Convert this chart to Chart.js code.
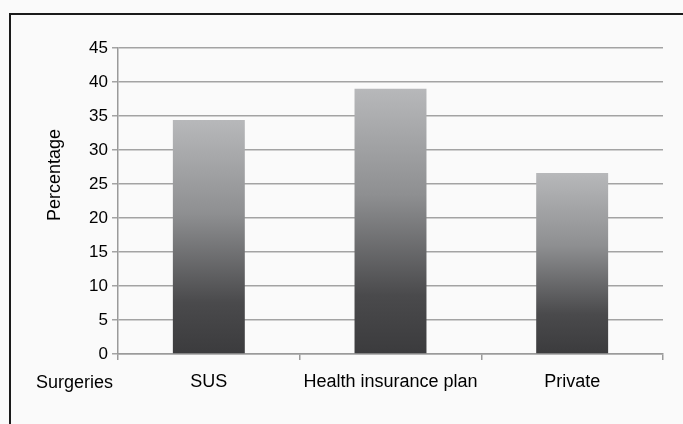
<!DOCTYPE html>
<html lang="en">
<head>
  <meta charset="UTF-8">
  <title>Surgeries by payer</title>
  <script src="https://cdn.jsdelivr.net/npm/chart.js"></script>
  <style>
    html, body {
      margin: 0;
      padding: 0;
      background: #fafafa;
      overflow: hidden;
    }
    .frame {
      position: absolute;
      left: 9px;
      top: 13px;
      width: 700px;
      height: 450px;
      border: 2px solid #1a1a1a;
    }
    .wrap {
      position: absolute;
      left: 0;
      top: 0;
      width: 683px;
      height: 424px;
    }
  </style>
</head>
<body>
  <div class="frame"></div>
  <div class="wrap"><canvas id="chart" width="683" height="424"></canvas></div>

  <script>
    const categories = ['SUS', 'Health insurance plan', 'Private'];
    const percentages = [34.4, 39.0, 26.6];
    const yTicks = [0, 5, 10, 15, 20, 25, 30, 35, 40, 45];
    const yTitle = 'Percentage';
    const xTitle = 'Surgeries';

    const FONT = "'Liberation Sans', Arial, sans-serif";

    // light top, dark bottom, per bar
    function barGradient(context) {
      const chart = context.chart;
      if (!chart.chartArea || context.raw == null) return '#8a8a8c';
      const y = chart.scales.y;
      const top = y.getPixelForValue(context.raw);
      const bottom = y.getPixelForValue(0);
      const g = chart.ctx.createLinearGradient(0, top, 0, bottom);
      g.addColorStop(0, '#b7b8ba');
      g.addColorStop(0.4, '#8e8f91');
      g.addColorStop(0.78, '#4a4a4c');
      g.addColorStop(1, '#3b3b3d');
      return g;
    }

    const titles = {
      id: 'titles',
      afterDraw(chart) {
        const ctx = chart.ctx;
        ctx.save();
        ctx.fillStyle = '#000';
        ctx.font = '18px ' + FONT;
        ctx.textBaseline = 'middle';
        ctx.textAlign = 'center';
        ctx.translate(55, 175);
        ctx.rotate(-Math.PI / 2);
        ctx.fillText(yTitle, 0, 0);
        ctx.restore();

        ctx.save();
        ctx.fillStyle = '#000';
        ctx.font = '18px ' + FONT;
        ctx.textBaseline = 'middle';
        ctx.textAlign = 'left';
        ctx.fillText(xTitle, 36, 383);
        ctx.restore();
      }
    };

    new Chart(document.getElementById('chart'), {
      type: 'bar',
      data: {
        labels: categories,
        datasets: [{
          data: percentages,
          backgroundColor: barGradient,
          borderWidth: 0,
          categoryPercentage: 1,
          barPercentage: 0.396
        }]
      },
      options: {
        responsive: false,
        animation: false,
        events: [],
        layout: { padding: { left: 30, top: 48, right: 20, bottom: 0 } },
        plugins: {
          legend: { display: false },
          tooltip: { enabled: false }
        },
        scales: {
          x: {
            afterFit: s => { s.height = 70; },
            border: { color: '#9a9a9a', width: 1.5 },
            grid: {
              offset: true,
              drawOnChartArea: false,
              drawTicks: true,
              tickLength: 6,
              color: '#9a9a9a',
              lineWidth: 1.5
            },
            ticks: {
              color: '#000',
              font: { family: FONT, size: 18 },
              padding: 11,
              maxRotation: 0
            }
          },
          y: {
            min: 0,
            max: 45,
            afterFit: s => { s.width = 88; },
            afterBuildTicks: s => { s.ticks = yTicks.map(v => ({ value: v })); },
            border: { color: '#9a9a9a', width: 1.5 },
            grid: {
              color: '#a3a3a3',
              lineWidth: 1.5,
              tickLength: 6
            },
            ticks: {
              color: '#000',
              font: { family: FONT, size: 17 },
              padding: 4
            }
          }
        }
      },
      plugins: [titles]
    });
  </script>
</body>
</html>
